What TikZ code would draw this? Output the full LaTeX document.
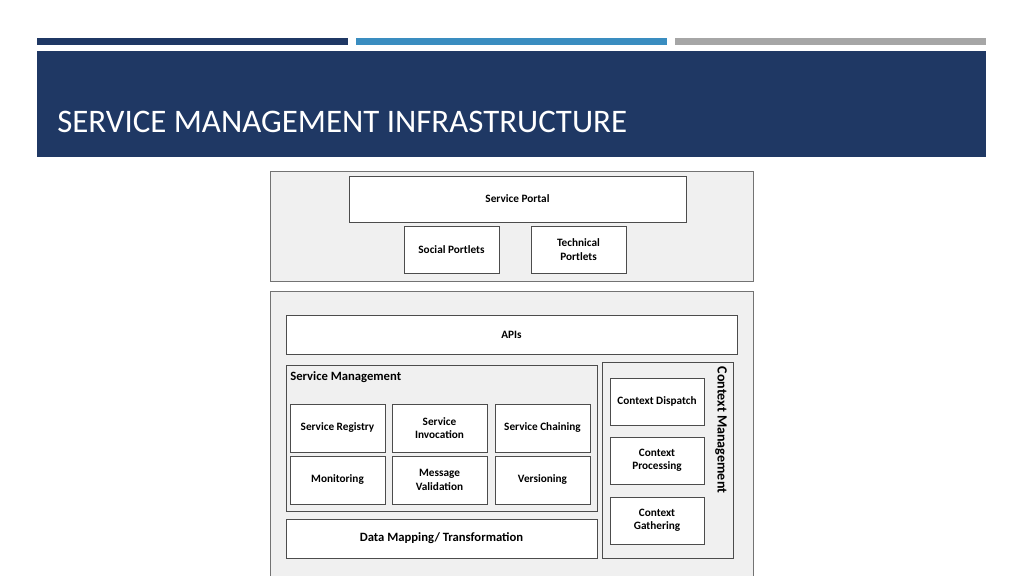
\documentclass[tikz,border=0pt]{standalone}
\usepackage{fontspec}
\setmainfont{Carlito}
\definecolor{navy}{HTML}{1F3864}
\definecolor{midblue}{HTML}{3A8DC0}
\definecolor{barg}{HTML}{A6A6A6}
\definecolor{panel}{HTML}{F0F0F0}
\begin{document}
\begin{tikzpicture}[x=0.025cm,y=-0.025cm,
  blk/.style={draw=black!70,fill=white,font=\bfseries\fontsize{8}{9.5}\selectfont,align=center,inner sep=0pt},
  panelbox/.style={draw=black!55,fill=panel},
  grp/.style={draw=black!70,fill=panel}]
\useasboundingbox (0,0) rectangle (1024,576);
\fill[white] (0,0) rectangle (1024,576);

\fill[navy] (37,38) rectangle (348,45);
\fill[midblue] (356,38) rectangle (667,45);
\fill[barg] (675,38) rectangle (986,45);
\fill[navy] (37,51) rectangle (986,157);
\node[anchor=base west,text=white,font=\fontsize{23.4}{28}\selectfont,inner sep=0pt] (title) at (57,133) {SERVICE MANAGEMENT INFRASTRUCTURE};

% portal layer
\draw[panelbox] (270,171) rectangle (753,281);
\node[blk,minimum width=337*0.025cm,minimum height=46*0.025cm] (portal) at (517.5,199) {Service Portal};
\node[blk,minimum width=95*0.025cm,minimum height=47*0.025cm] (social) at (451.5,249.5) {Social Portlets};
\node[blk,minimum width=95*0.025cm,minimum height=47*0.025cm] (tech) at (578.5,249.5) {Technical\\Portlets};

% platform layer
\draw[panelbox] (270,291) rectangle (753,580);
\node[blk,minimum width=451*0.025cm,minimum height=39*0.025cm] (apis) at (511.5,334.5) {APIs};

\draw[grp] (286,365) rectangle (597,511);
\node[anchor=north west,font=\bfseries\fontsize{9}{11}\selectfont,inner sep=0pt] (smlabel) at (290,371) {Service Management};
\foreach \nm/\cx/\cy/\txt in {reg/337.5/428/Service Registry,inv/439.5/428/{Service\\Invocation},chain/542.5/428/Service Chaining,
  mon/337.5/480/Monitoring,val/439.5/480/{Message\\Validation},ver/542.5/480/Versioning}
  \node[blk,minimum width=95*0.025cm,minimum height=48*0.025cm] (\nm) at (\cx,\cy) {\txt};

\node[blk,fill=white,font=\bfseries\fontsize{9}{11}\selectfont,minimum width=311*0.025cm,minimum height=39*0.025cm] (datamap) at (441.5,538.5) {Data Mapping/ Transformation};

\draw[grp] (602,362) rectangle (733,558);
\node[rotate=-90,font=\bfseries\fontsize{10}{12}\selectfont,inner sep=0pt] (cmlabel) at (721,430) {Context Management};
\node[blk,minimum width=94*0.025cm,minimum height=47*0.025cm] (dispatch) at (657,401.5) {Context Dispatch};
\node[blk,minimum width=94*0.025cm,minimum height=47*0.025cm] (proc) at (657,460.5) {Context\\Processing};
\node[blk,minimum width=94*0.025cm,minimum height=47*0.025cm] (gather) at (657,520.5) {Context\\Gathering};
\end{tikzpicture}
\end{document}
